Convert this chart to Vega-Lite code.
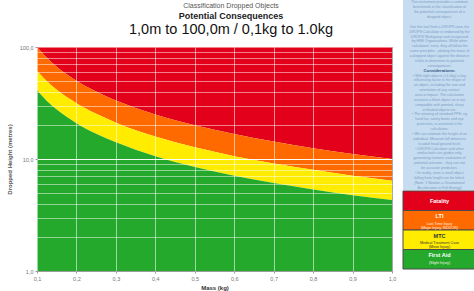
{
  "$schema": "https://vega.github.io/schema/vega-lite/v6.json",
  "padding": {"left": 5, "top": 0, "right": 0, "bottom": 0},
  "background": "white",
  "config": {"font": "Liberation Sans", "view": {"stroke": null}},
  "datasets": {
    "header": [
      {"line": 1, "t": "Classification Dropped Objects"},
      {"line": 2, "t": "Potential Consequences"},
      {"line": 3, "t": "1,0m to 100,0m / 0,1kg to 1.0kg"}
    ],
    "curves": [
      {"m": 0.1, "red": 100, "orange": 61, "green": 41},
      {"m": 0.125, "red": 80, "orange": 49.5, "green": 33},
      {"m": 0.15, "red": 66.7, "orange": 41.5, "green": 27.7},
      {"m": 0.2, "red": 50, "orange": 31.5, "green": 20.9},
      {"m": 0.25, "red": 40, "orange": 25.3, "green": 16.8},
      {"m": 0.3, "red": 33.3, "orange": 21.1, "green": 14.1},
      {"m": 0.35, "red": 28.6, "orange": 18.1, "green": 12.1},
      {"m": 0.4, "red": 25, "orange": 15.9, "green": 10.6},
      {"m": 0.5, "red": 20, "orange": 12.7, "green": 8.5},
      {"m": 0.6, "red": 16.7, "orange": 10.6, "green": 7.1},
      {"m": 0.7, "red": 14.3, "orange": 9.1, "green": 6.1},
      {"m": 0.8, "red": 12.5, "orange": 8.0, "green": 5.35},
      {"m": 0.9, "red": 11.1, "orange": 7.1, "green": 4.75},
      {"m": 1.0, "red": 10, "orange": 6.4, "green": 4.3}
    ],
    "notes": [
      {"i": 1, "k": "b", "t": "This instrument provides a common"},
      {"i": 2, "k": "b", "t": "benchmark in the classification of"},
      {"i": 3, "k": "b", "t": "the potential consequences of a"},
      {"i": 4, "k": "b", "t": "dropped object."},
      {"i": 5, "k": "b", "t": ""},
      {"i": 6, "k": "b", "t": "Use this tool from a DROPS view, the"},
      {"i": 7, "k": "b", "t": "DROPS Calculator is endorsed by the"},
      {"i": 8, "k": "b", "t": "DROPS Workgroup and recognised"},
      {"i": 9, "k": "b", "t": "by HSE Organisations. While other"},
      {"i": 10, "k": "b", "t": "'calculators' exist, they all follow the"},
      {"i": 11, "k": "b", "t": "same principles - plotting the mass of"},
      {"i": 12, "k": "b", "t": "a dropped object against the distance"},
      {"i": 13, "k": "b", "t": "it falls to determine its potential"},
      {"i": 14, "k": "b", "t": "consequences."},
      {"i": 15, "k": "h", "t": "Considerations:"},
      {"i": 16, "k": "b", "t": "• With light objects (<1.0kg) a key"},
      {"i": 17, "k": "b", "t": "influencing factor is the shape of"},
      {"i": 18, "k": "b", "t": "an object, including the size and"},
      {"i": 19, "k": "b", "t": "orientation of any contact"},
      {"i": 20, "k": "b", "t": "area at impact. The calculation"},
      {"i": 21, "k": "b", "t": "assumes a blunt object so is not"},
      {"i": 22, "k": "b", "t": "compatible with pointed, sharp"},
      {"i": 23, "k": "b", "t": "or bladed objects etc."},
      {"i": 24, "k": "b", "t": "• The wearing of standard PPE, eg"},
      {"i": 25, "k": "b", "t": "hard hat, safety boots and eye"},
      {"i": 26, "k": "b", "t": "protection, is assumed in the"},
      {"i": 27, "k": "b", "t": "calculation."},
      {"i": 28, "k": "b", "t": "• We can estimate the height of an"},
      {"i": 29, "k": "b", "t": "individual. Measure fall distances"},
      {"i": 30, "k": "b", "t": "to adult head ground level."},
      {"i": 31, "k": "b", "t": "• DROPS Calculator and other"},
      {"i": 32, "k": "b", "t": "similar tools are guides only,"},
      {"i": 33, "k": "b", "t": "generating numeric evaluation of"},
      {"i": 34, "k": "b", "t": "potential outcome - they can not"},
      {"i": 35, "k": "b", "t": "be accurate predictors."},
      {"i": 36, "k": "b", "t": "• In reality, even a small object"},
      {"i": 37, "k": "b", "t": "falling from height can be lethal."},
      {"i": 38, "k": "b", "t": "(Note: 1 Newton = Gravitational"},
      {"i": 39, "k": "b", "t": "Acceleration in Fall Energy)"}
    ],
    "classes": [
      {"c": "Fatality", "s": ""},
      {"c": "LTI", "s": "Lost Time Injury\n(Major Injury, RIDDOR)"},
      {"c": "MTC", "s": "Medical Treatment Case\n(Minor Injury)"},
      {"c": "First Aid", "s": "(Slight Injury)"}
    ]
  },
  "spacing": 5,
  "hconcat": [
    {
      "spacing": 0,
      "vconcat": [
        {
          "width": 355,
          "height": 44,
          "data": {"name": "header"},
          "encoding": {
            "y": {"field": "line", "type": "ordinal", "axis": null,
                  "scale": {"type": "point", "domain": [1, 2, 3], "padding": 1.095, "align": 0.348}},
            "text": {"field": "t"}
          },
          "layer": [
            {"transform": [{"filter": "datum.line == 1"}],
             "mark": {"type": "text", "fontSize": 7, "color": "#555555", "dx": 16.5, "baseline": "alphabetic"}},
            {"transform": [{"filter": "datum.line == 2"}],
             "mark": {"type": "text", "fontSize": 9, "fontWeight": "bold", "color": "#222222", "dx": 16.5, "baseline": "alphabetic"}},
            {"transform": [{"filter": "datum.line == 3"}],
             "mark": {"type": "text", "fontSize": 14.5, "color": "#111111", "dx": 16.5, "baseline": "middle"}}
          ]
        },
        {
          "width": 355,
          "height": 224,
          "data": {"name": "curves"},
          "view": {"stroke": "#3a3a3a", "strokeWidth": 1},
          "encoding": {
            "x": {"field": "m", "type": "quantitative", "title": "Mass (kg)",
                  "scale": {"domain": [0.1, 1.0], "nice": false, "zero": false},
                  "axis": {"values": [0.1, 0.2, 0.3, 0.4, 0.5, 0.6, 0.7, 0.8, 0.9, 1.0],
                           "labelExpr": "replace(format(datum.value, '.1f'), '.', ',')",
                           "grid": true, "gridColor": "white", "gridOpacity": 0.55, "gridWidth": 1,
                           "domain": false, "tickSize": 2, "tickColor": "#999999",
                           "labelFontSize": 5.5, "labelColor": "#777777", "labelPadding": 3, "labelFlush": false,
                           "titleFontSize": 6, "titleColor": "#333333", "titleFontWeight": "bold", "titlePadding": 3,
                           "zindex": 1}}
          },
          "layer": [
            {"mark": {"type": "area", "color": "#e3001b", "interpolate": "monotone", "clip": true},
             "encoding": {
               "y": {"field": "red", "type": "quantitative", "title": "Dropped Height (metres)",
                     "scale": {"type": "log", "domain": [1, 100], "nice": false},
                     "axis": {"values": [1, 2, 3, 4, 5, 6, 7, 8, 9, 10, 20, 30, 40, 50, 60, 70, 80, 90, 100],
                              "labelExpr": "datum.value == 1 || datum.value == 10 || datum.value == 100 ? replace(format(datum.value, '.1f'), '.', ',') : ''",
                              "grid": true, "gridColor": "white",
                              "gridOpacity": {"condition": {"test": "datum.value == 10", "value": 0.95}, "value": 0.5},
                              "gridWidth": 1, "domain": false, "tickSize": 2, "tickColor": "#999999",
                              "tickOpacity": {"condition": {"test": "datum.value == 1 || datum.value == 10 || datum.value == 100", "value": 1}, "value": 0},
                              "labelFontSize": 5.5, "labelColor": "#777777", "labelPadding": 2, "labelOverlap": false,
                              "titleFontSize": 6, "titleColor": "#555555", "titleFontWeight": "bold", "titlePadding": 7,
                              "zindex": 1}},
               "y2": {"datum": 100}}},
            {"mark": {"type": "area", "color": "#ff6a00", "interpolate": "monotone", "clip": true},
             "encoding": {"y": {"field": "orange", "type": "quantitative", "title": "Dropped Height (metres)"}, "y2": {"field": "red"}}},
            {"mark": {"type": "area", "color": "#ffec00", "interpolate": "monotone", "clip": true},
             "encoding": {"y": {"field": "green", "type": "quantitative", "title": "Dropped Height (metres)"}, "y2": {"field": "orange"}}},
            {"mark": {"type": "area", "color": "#24a92c", "interpolate": "monotone", "clip": true},
             "encoding": {"y": {"field": "green", "type": "quantitative", "title": "Dropped Height (metres)"}, "y2": {"datum": 1}}}
          ]
        }
      ]
    },
    {
      "spacing": 0,
      "vconcat": [
        {
          "width": 73,
          "height": 190,
          "data": {"name": "notes"},
          "view": {"fill": "#c6ddf1", "stroke": null},
          "encoding": {
            "y": {"field": "i", "type": "ordinal", "axis": null, "scale": {"paddingInner": 0, "paddingOuter": 0.6}},
            "text": {"field": "t"}
          },
          "layer": [
            {"transform": [{"filter": "datum.k != 'h'"}],
             "mark": {"type": "text", "fontSize": 3.6, "color": "#7b9cc2"}},
            {"transform": [{"filter": "datum.k == 'h'"}],
             "mark": {"type": "text", "fontSize": 4.2, "fontWeight": "bold", "color": "#34557f"}}
          ]
        },
        {
          "width": 73,
          "height": 78,
          "data": {"name": "classes"},
          "view": {"fill": "#c6ddf1", "stroke": null},
          "encoding": {
            "y": {"field": "c", "type": "nominal", "axis": null,
                  "scale": {"domain": ["Fatality", "LTI", "MTC", "First Aid"], "paddingInner": 0, "paddingOuter": 0}}
          },
          "layer": [
            {"mark": {"type": "rect", "stroke": "#4a4a4a", "strokeWidth": 1},
             "encoding": {"fill": {"field": "c", "type": "nominal", "legend": null,
                                   "scale": {"domain": ["Fatality", "LTI", "MTC", "First Aid"],
                                             "range": ["#e3001b", "#ff6a00", "#ffec00", "#24a92c"]}}}},
            {"transform": [{"filter": "datum.c == 'Fatality'"}],
             "mark": {"type": "text", "fontSize": 5.5, "fontWeight": "bold", "color": "white"},
             "encoding": {"text": {"field": "c"}}},
            {"transform": [{"filter": "datum.c != 'Fatality'"}],
             "mark": {"type": "text", "fontSize": 5.5, "fontWeight": "bold"},
             "encoding": {
               "y": {"field": "c", "type": "nominal", "bandPosition": 0.3,
                     "scale": {"domain": ["Fatality", "LTI", "MTC", "First Aid"]}},
               "text": {"field": "c"},
               "color": {"condition": {"test": "datum.c == 'MTC'", "value": "#333333"}, "value": "white"}}},
            {"transform": [{"filter": "datum.c != 'Fatality'"}],
             "mark": {"type": "text", "fontSize": 3.6, "lineBreak": "\n", "lineHeight": 4.2},
             "encoding": {
               "y": {"field": "c", "type": "nominal", "bandPosition": 0.68,
                     "scale": {"domain": ["Fatality", "LTI", "MTC", "First Aid"]}},
               "text": {"field": "s"},
               "color": {"condition": {"test": "datum.c == 'MTC'", "value": "#333333"}, "value": "#fff3e0"}}}
          ]
        }
      ]
    }
  ]
}
